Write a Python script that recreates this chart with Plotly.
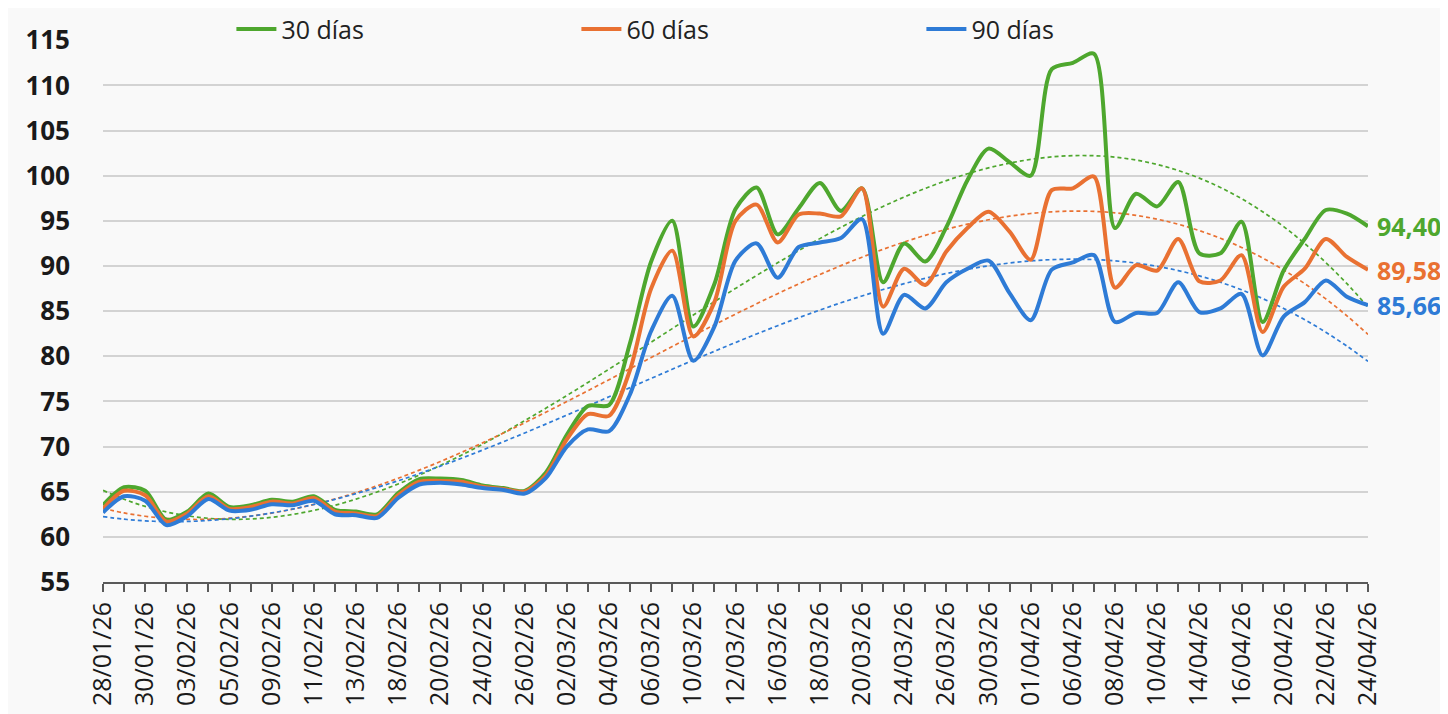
import numpy as np
import plotly.graph_objects as go

# ---- data ----
label_dates = ["28/01/26", "30/01/26", "03/02/26", "05/02/26", "09/02/26", "11/02/26",
               "13/02/26", "18/02/26", "20/02/26", "24/02/26", "26/02/26", "02/03/26",
               "04/03/26", "06/03/26", "10/03/26", "12/03/26", "16/03/26", "18/03/26",
               "20/03/26", "24/03/26", "26/03/26", "30/03/26", "01/04/26", "06/04/26",
               "08/04/26", "10/04/26", "14/04/26", "16/04/26", "20/04/26", "22/04/26",
               "24/04/26"]

d30 = [63.5, 65.5, 65.1, 61.9, 62.8, 64.8, 63.3, 63.5, 64.1, 63.9,
       64.5, 63.0, 62.8, 62.5, 64.85, 66.4, 66.45, 66.3, 65.7, 65.4,
       65.1, 67.1, 71.3, 74.5, 74.6, 81.5, 90.5, 95.0, 83.3, 88.0,
       96.3, 98.7, 93.5, 96.4, 99.2, 96.1, 98.6, 88.2, 92.5, 90.5,
       94.3, 99.5, 103.0, 101.5, 100.0, 111.8, 112.5, 113.5, 94.2, 98.0,
       96.6, 99.3, 91.4, 91.4, 94.9, 83.8, 89.5, 93.0, 96.2, 95.8,
       94.40]

d60 = [63.1, 65.1, 64.6, 61.7, 62.6, 64.5, 63.1, 63.3, 63.9, 63.7,
       64.3, 62.8, 62.6, 62.3, 64.6, 66.1, 66.2, 66.1, 65.55, 65.3,
       65.0, 66.8, 70.8, 73.6, 73.4, 78.5, 87.5, 91.7, 82.2, 86.0,
       95.0, 96.8, 92.6, 95.7, 95.8, 95.5, 98.6, 85.5, 89.7, 87.9,
       91.6, 94.2, 96.0, 93.8, 90.7, 98.4, 98.6, 99.9, 87.6, 90.1,
       89.5, 93.0, 88.3, 88.4, 91.2, 82.7, 87.7, 89.7, 93.0, 91.0,
       89.58]

d90 = [62.7, 64.5, 64.0, 61.3, 62.3, 64.2, 62.9, 63.0, 63.6, 63.5,
       64.0, 62.5, 62.4, 62.1, 64.3, 65.8, 66.0, 65.8, 65.4, 65.2,
       64.8, 66.5, 70.0, 71.9, 71.7, 75.8, 82.8, 86.7, 79.5, 83.3,
       90.6, 92.5, 88.7, 92.1, 92.6, 93.1, 95.2, 82.5, 86.8, 85.3,
       88.2, 89.7, 90.6, 87.0, 84.0, 89.6, 90.4, 91.2, 83.8, 84.8,
       84.8, 88.2, 84.9, 85.3, 86.9, 80.1, 84.4, 86.0, 88.4, 86.6,
       85.66]

series_names = ["30 días", "60 días", "90 días"]
series_vals = [d30, d60, d90]
series_colors = ["#4EA72E", "#E97132", "#2E7BD6"]

# ---- build ----
n = len(d30)
x = np.arange(n)
tickvals = list(range(n))
ticktext = []
for i in range(n):
    ticktext.append(label_dates[i // 2] if i % 2 == 0 else "")

fig = go.Figure()

# polynomial trend lines (order 3) fitted to each series
for name, vals, col in zip(series_names, series_vals, series_colors):
    coef = np.polyfit(x, np.array(vals), 3)
    trend = np.polyval(coef, x)
    fig.add_trace(go.Scatter(x=x, y=trend, mode="lines", showlegend=False,
                             hoverinfo="skip",
                             line=dict(color=col, width=1.7, dash="4px,3px", shape="spline")))

for name, vals, col in zip(series_names, series_vals, series_colors):
    fig.add_trace(go.Scatter(x=x, y=vals, mode="lines", name=name,
                             line=dict(color=col, width=4, shape="spline", smoothing=0.8)))

for name, vals, col in zip(series_names, series_vals, series_colors):
    fig.add_annotation(x=n - 1, y=vals[-1], xref="x", yref="y",
                       text=f"{vals[-1]:.2f}".replace(".", ","),
                       showarrow=False, xanchor="left", xshift=7,
                       font=dict(family="Open Sans", size=25, color=col, weight="bold"))

fig.update_layout(
    width=1448, height=714,
    margin=dict(l=95, r=88, t=32, b=140, autoexpand=False),
    paper_bgcolor="#f9f9f9", plot_bgcolor="#f9f9f9",
    font=dict(family="Open Sans", color="#222222"),
    legend=dict(orientation="h", x=0.1015, xanchor="left", y=1.02, yanchor="middle",
                font=dict(family="Open Sans", size=25, color="#222222"),
                entrywidth=290, entrywidthmode="pixels",
                bgcolor="rgba(0,0,0,0)", itemwidth=40),
    showlegend=True,
)

fig.update_xaxes(range=[0, n - 1], tickmode="array", tickvals=tickvals, ticktext=ticktext,
                 tickangle=-90, showgrid=False, zeroline=False,
                 showline=True, linecolor="#5a5a5a", linewidth=2,
                 ticks="outside", ticklen=8, tickwidth=2, tickcolor="#5a5a5a",
                 tickfont=dict(family="Open Sans", size=25, color="#1a1a1a"))

fig.update_yaxes(range=[55, 115.03], dtick=5, tick0=55, showgrid=True,
                 gridcolor="#d3d3d3", gridwidth=1.5, zeroline=False, showline=False,
                 ticks="", ticklabelstandoff=32,
                 tickfont=dict(family="Open Sans", size=26, color="#1a1a1a", weight="bold"))

fig.write_html("out.html")
